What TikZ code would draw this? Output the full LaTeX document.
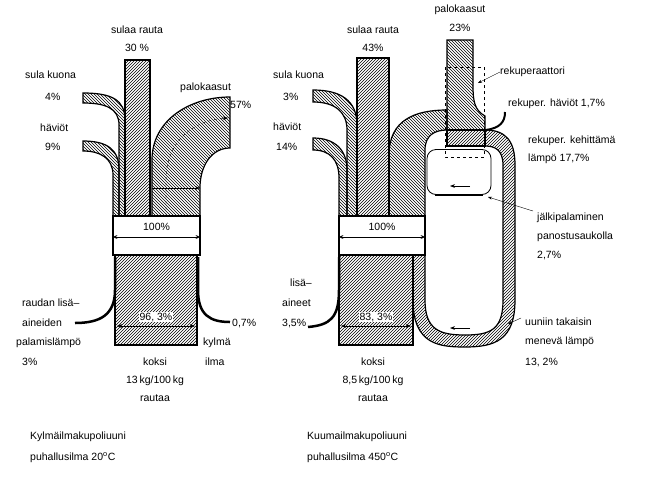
\documentclass[tikz,border=0pt]{standalone}
\usepackage{fontspec}
\setmainfont{Liberation Sans}
\usetikzlibrary{patterns,arrows.meta,calc}
\begin{document}
\begin{tikzpicture}[x=1pt,y=-1pt,font=\fontsize{10.5}{12}\selectfont,
  hatchA/.style={pattern=north east lines,draw,line width=1.2pt},
  hatchB/.style={pattern=north west lines,draw,line width=1.2pt},
  lab/.style={inner sep=0pt,anchor=west},
  labc/.style={inner sep=0pt},
  blk/.style={line width=2.5pt},
  dim/.style={{Stealth[length=5pt]}-{Stealth[length=5pt]},thin}]
\useasboundingbox (0,0) rectangle (669,477);
% ================= LEFT =================
\path[hatchA] (125,60) rectangle (150,216);
\path[hatchB] (83,93) .. controls (112,93) and (125,100) .. (125,120) -- (125,216) -- (119,216) -- (119,125) .. controls (119,108) and (105,103) .. (83,103) -- cycle;
\path[hatchB] (83,141) .. controls (108,141) and (119,150) .. (119,170) -- (119,216) -- (113,216) -- (113,175) .. controls (113,158) and (100,151) .. (83,151) -- cycle;
\path[hatchB] (152,216) -- (152,160) .. controls (152,120) and (190,97) .. (230,97) -- (230,148) .. controls (212,148) and (200,165) .. (200,188) -- (200,216) -- cycle;
\draw[-{Stealth[length=5pt]},thin] (152,188) -- (200,188);
\draw[dashed,thin,-{Stealth[length=5pt]}] (166,216) -- (166,180) .. controls (166,140) and (195,120) .. (228,118);
\node[draw,line width=1.2pt,fill=white,minimum width=87pt,minimum height=39pt,inner sep=0pt] (bandL) at (156.5,235.5) {};
\draw[dim] (bandL.west |- 0,237) -- (bandL.east |- 0,237);
\node[labc] (pL) at (156.5,227) {100\%};
\path[hatchA] (115,255) rectangle (197,345);
\draw[dim] (117,326) -- (195,326);
\node[labc,fill=white,inner sep=1pt] (cL) at (156,317) {96, 3\%};
\draw[blk] (115,257) -- (115,290) .. controls (115,315) and (100,323) .. (75,323);
\draw[blk] (198,257) -- (198,290) .. controls (198,315) and (210,322) .. (230,322);
\node[labc] (a1) at (137,30) {sulaa rauta};
\node[labc] (a2) at (137,48) {30 \%};
\node[lab] (a3) at (25,75) {sula kuona};
\node[lab] (a4) at (45,97) {4\%};
\node[lab] (a5) at (40,128) {häviöt};
\node[lab] (a6) at (45,147) {9\%};
\node[lab] (a7) at (180,88) {palokaasut};
\node[lab] (a8) at (230,105) {57\%};
\node[lab] (a9) at (22,303) {raudan lisä–};
\node[lab] (a10) at (22,323) {aineiden};
\node[lab] (a11) at (16,343) {palamislämpö};
\node[lab] (a12) at (22,362) {3\%};
\node[lab] (a13) at (232,323) {0,7\%};
\node[lab] (a14) at (203,343) {kylmä};
\node[lab] (a15) at (205,362) {ilma};
\node[labc] (a16) at (155,362) {koksi};
\node[labc] (a17) at (155,381) {13\,kg/100\,kg};
\node[labc] (a18) at (155,398) {rautaa};
\node[lab] (a19) at (30,437) {Kylmäilmakupoliuuni};
\node[lab] (a20) at (30,458) {puhallusilma 20\textsuperscript{o}C};
% ================= RIGHT =================
\path[hatchA] (357,58) rectangle (389,216);
\path[hatchB] (313,90) .. controls (340,90) and (357,100) .. (357,125) -- (357,216) -- (347,216) -- (347,130) .. controls (347,112) and (335,102) .. (313,102) -- cycle;
\path[hatchB] (313,138) .. controls (335,138) and (347,150) .. (347,170) -- (347,216) -- (339,216) -- (339,178) .. controls (339,160) and (330,150) .. (313,150) -- cycle;
\path[hatchB] (389,216) -- (389,155) .. controls (389,120) and (415,110) .. (447,110) -- (447,130) .. controls (435,130) and (425,135) .. (425,150) -- (425,216) -- cycle;
\path[hatchB] (447,40) -- (447,130) -- (485,130) -- (485,116) .. controls (474,110) and (473,100) .. (473,85) -- (473,40) -- cycle;
\path[hatchA] (447,130) rectangle (485,146);
\path[hatchA] (413,255) -- (413,300) .. controls (413,345) and (440,347) .. (465,347) .. controls (495,347) and (515,340) .. (515,300) -- (515,165) .. controls (515,140) and (505,130) .. (485,130) -- (485,146) .. controls (495,146) and (503,150) .. (503,165) -- (503,300) .. controls (503,330) and (490,335) .. (465,335) .. controls (440,335) and (425,330) .. (425,300) -- (425,255) -- cycle;
\node[draw,thick,fill=white,rounded corners=9pt,minimum width=64pt,minimum height=45pt,inner sep=0pt] (rr) at (459,172) {};
\draw[line width=2.5pt] ($(rr.south west)+(8,0)$) -- ($(rr.south east)+(-8,0)$);
\draw[-{Stealth[length=5pt]},semithick] (470,186) -- (450,186);
\draw[-{Stealth[length=5pt]},semithick] (470,328) -- (450,328);
\draw[dashed,thick] (445,67) rectangle (484,157);
\draw[blk,line width=2pt] (486,130) .. controls (500,128) and (505,122) .. (505,112);
\node[draw,line width=1.2pt,fill=white,minimum width=86pt,minimum height=39pt,inner sep=0pt] (bandR) at (382,235.5) {};
\draw[dim] (bandR.west |- 0,237) -- (bandR.east |- 0,237);
\node[labc] (pR) at (382,227) {100\%};
\path[hatchA] (339,255) rectangle (413,345);
\draw[dim] (341,326) -- (411,326);
\node[labc,fill=white,inner sep=1pt] (cR) at (376,317) {83, 3\%};
\draw[blk] (339,257) -- (339,290) .. controls (339,318) and (330,325) .. (308,327);
\node[labc] (b1) at (373,30) {sulaa rauta};
\node[labc] (b2) at (373,48) {43\%};
\node[labc] (b3) at (460,10) {palokaasut};
\node[labc] (b4) at (460,28) {23\%};
\node[lab] (b5) at (273,75) {sula kuona};
\node[lab] (b6) at (283,97) {3\%};
\node[lab] (b7) at (273,127) {häviöt};
\node[lab] (b8) at (276,147) {14\%};
\node[lab] (b9) at (500,72) {rekuperaattori};
\draw[-{Stealth[length=4pt]},thin] (b9.west) -- (478,83);
\node[lab] (b10) at (508,104) {rekuper. häviöt 1,7\%};
\node[lab] (b11) at (528,141) {rekuper. kehittämä};
\node[lab] (b12) at (528,159) {lämpö 17,7\%};
\node[lab] (b13) at (537,218) {jälkipalaminen};
\node[lab] (b14) at (537,237) {panostusaukolla};
\node[lab] (b15) at (537,256) {2,7\%};
\draw[-{Stealth[length=4pt]},thin] (533,211) -- (488,197);
\node[lab] (b16) at (525,322) {uuniin takaisin};
\node[lab] (b17) at (525,342) {menevä lämpö};
\node[lab] (b18) at (525,362) {13, 2\%};
\draw[-{Stealth[length=4pt]},thin] (521,318) -- (508,324);
\node[lab] (b19) at (290,283) {lisä–};
\node[lab] (b20) at (282,303) {aineet};
\node[lab] (b21) at (282,323) {3,5\%};
\node[labc] (b22) at (373,362) {koksi};
\node[labc] (b23) at (373,381) {8,5\,kg/100\,kg};
\node[labc] (b24) at (373,398) {rautaa};
\node[lab] (b25) at (307,437) {Kuumailmakupoliuuni};
\node[lab] (b26) at (307,458) {puhallusilma 450\textsuperscript{o}C};
\end{tikzpicture}
\end{document}
